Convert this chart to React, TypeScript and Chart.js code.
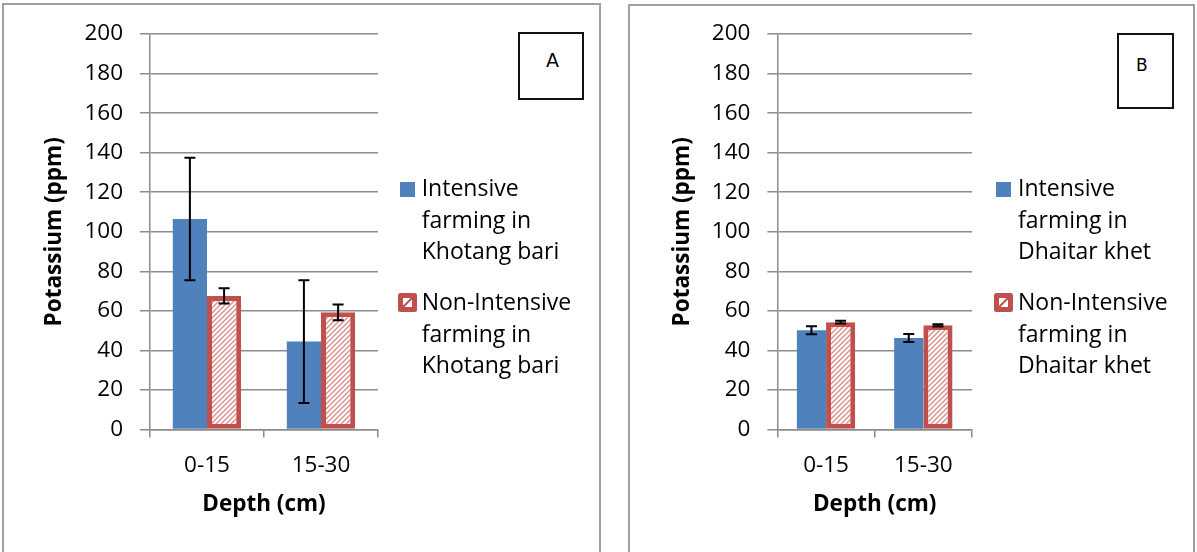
import React, { useEffect, useRef } from "react";
import { Chart, registerables } from "chart.js";

Chart.register(...registerables);

// ---------- data ----------
const categories = ["0-15", "15-30"];
const yMin = 0;
const yMax = 200;
const yStep = 20;

const khotangIntensive = [106.5, 44.5];
const khotangIntensiveErr = [31, 31];
const khotangNonIntensive = [67.6, 59.3];
const khotangNonIntensiveErr = [3.9, 4];

const dhaitarIntensive = [50.2, 46.3];
const dhaitarIntensiveErr = [2, 2];
const dhaitarNonIntensive = [54.3, 52.7];
const dhaitarNonIntensiveErr = [0.7, 0.6];

const legendKhotang = [
  ["Intensive", "farming in", "Khotang bari"],
  ["Non-Intensive", "farming in", "Khotang bari"],
];
const legendDhaitar = [
  ["Intensive", "farming in", "Dhaitar khet"],
  ["Non-Intensive", "farming in", "Dhaitar khet"],
];

const yTitle = "Potassium (ppm)";
const xTitle = "Depth (cm)";

// ---------- style ----------
const FONT = "'Open Sans', 'DejaVu Sans', sans-serif";
const GRAY = "#8c8c8c";
const BLUE = "#4F81BD";
const RED = "#C0504D";
const H = 552;
const PLOT_TOP = 34;
const ZERO_Y = 429.6;
const PAD_L = 20;
const TICK_SIZE = 22.5;
const TITLE_SIZE = 22.5;

function makeHatch(): CanvasPattern | string {
  const c = document.createElement("canvas");
  const p = 5;
  c.width = p;
  c.height = p;
  const g = c.getContext("2d");
  if (!g) return "#fff";
  g.fillStyle = "#ffffff";
  g.fillRect(0, 0, p, p);
  g.strokeStyle = "#DB8E8C";
  g.lineWidth = 1.4;
  g.beginPath();
  g.moveTo(-1, p + 1);
  g.lineTo(p + 1, -1);
  g.moveTo(-1, 1);
  g.lineTo(1, -1);
  g.moveTo(p - 1, p + 1);
  g.lineTo(p + 1, p - 1);
  g.stroke();
  return g.createPattern(c, "repeat") || "#fff";
}

const errorBarPlugin = {
  id: "errorBars",
  afterDatasetsDraw(chart: any, _args: any, opts: any) {
    const errs: number[][] = opts.errors || [];
    const ctx = chart.ctx;
    const yScale = chart.scales.y;
    ctx.save();
    ctx.strokeStyle = "#000";
    ctx.lineWidth = 2;
    chart.data.datasets.forEach((ds: any, di: number) => {
      const meta = chart.getDatasetMeta(di);
      meta.data.forEach((el: any, i: number) => {
        const v = ds.data[i];
        const e = errs[di] ? errs[di][i] : 0;
        const x = el.x;
        const yTop = yScale.getPixelForValue(v + e);
        const yBot = yScale.getPixelForValue(v - e);
        const cap = 5.5;
        ctx.beginPath();
        ctx.moveTo(x, yTop);
        ctx.lineTo(x, yBot);
        ctx.moveTo(x - cap, yTop);
        ctx.lineTo(x + cap, yTop);
        ctx.moveTo(x - cap, yBot);
        ctx.lineTo(x + cap, yBot);
        ctx.stroke();
      });
    });
    ctx.restore();
  },
};

type ChartProps = {
  canvasLeft: number;
  canvasWidth: number;
  yAxisX: number;
  plotRight: number;
  titleCenterX: number;
  intensive: number[];
  intensiveErr: number[];
  nonIntensive: number[];
  nonIntensiveErr: number[];
  legend: string[][];
};

function BarPanel(props: ChartProps) {
  const ref = useRef<HTMLCanvasElement | null>(null);
  useEffect(() => {
    if (!ref.current) return;
    const hatch = makeHatch();
    const titleLH = TITLE_SIZE * 1.2;
    const chart = new Chart(ref.current, {
      type: "bar",
      data: {
        labels: categories,
        datasets: [
          {
            label: props.legend[0].join(" "),
            data: props.intensive,
            backgroundColor: BLUE,
            borderWidth: 0,
          },
          {
            label: props.legend[1].join(" "),
            data: props.nonIntensive,
            backgroundColor: hatch as any,
            borderColor: RED,
            borderWidth: 5,
            borderSkipped: false,
          },
        ],
      },
      options: {
        responsive: true,
        maintainAspectRatio: false,
        animation: false,
        layout: {
          padding: {
            left: PAD_L,
            right: props.canvasWidth - props.plotRight,
            top: PLOT_TOP,
            bottom: 0,
          },
        },
        datasets: { bar: { categoryPercentage: 0.6, barPercentage: 1 } },
        plugins: {
          legend: { display: false },
          tooltip: { enabled: false },
          errorBars: { errors: [props.intensiveErr, props.nonIntensiveErr] },
        } as any,
        scales: {
          x: {
            grid: {
              drawOnChartArea: false,
              offset: true,
              tickLength: 8,
              color: GRAY,
              lineWidth: 1.5,
            },
            border: { color: GRAY, width: 1.5 },
            ticks: {
              font: { family: FONT, size: TICK_SIZE },
              color: "#000",
              padding: 14,
            },
            title: {
              display: true,
              text: xTitle,
              color: "#000",
              font: { family: FONT, size: TITLE_SIZE, weight: "bold" },
              padding: { top: 0, bottom: H - 505 - titleLH / 2 },
            },
            afterFit(s: any) {
              s.height = H - ZERO_Y;
            },
          },
          y: {
            min: yMin,
            max: yMax,
            ticks: {
              stepSize: yStep,
              font: { family: FONT, size: TICK_SIZE },
              color: "#000",
              padding: 17,
            },
            grid: { color: GRAY, lineWidth: 1.5, tickLength: 10 },
            border: { color: GRAY, width: 1.5 },
            title: {
              display: true,
              text: yTitle,
              color: "#000",
              font: { family: FONT, size: TITLE_SIZE, weight: "bold" },
              padding: {
                top: props.titleCenterX - PAD_L - titleLH / 2,
                bottom: 0,
              },
            },
            afterFit(s: any) {
              s.width = props.yAxisX - PAD_L;
            },
          },
        },
      } as any,
      plugins: [errorBarPlugin],
    });
    return () => chart.destroy();
  }, []);
  return (
    <div
      style={{
        position: "absolute",
        left: props.canvasLeft,
        top: 0,
        width: props.canvasWidth,
        height: H,
      }}
    >
      <canvas ref={ref} />
    </div>
  );
}

function RedMarker() {
  return (
    <svg width={19} height={19} style={{ display: "block" }}>
      <rect x={0} y={0} width={19} height={19} rx={2.5} fill={RED} />
      <rect x={5} y={5} width={9} height={9} fill="#fff" />
      <line x1={5} y1={14} x2={14} y2={5} stroke={RED} strokeWidth={2} />
    </svg>
  );
}

function Legend(props: { left: number; squareLeft: number; redLeft: number; lines: string[][] }) {
  const textStyle: React.CSSProperties = {
    position: "absolute",
    left: props.left,
    fontFamily: FONT,
    fontSize: 23,
    lineHeight: "31.5px",
    color: "#000",
    whiteSpace: "nowrap",
  };
  return (
    <>
      <div
        style={{
          position: "absolute",
          left: props.squareLeft,
          top: 182,
          width: 15,
          height: 15,
          background: BLUE,
        }}
      />
      <div style={{ ...textStyle, top: 172 }}>
        {props.lines[0].map((l, i) => (
          <div key={i}>{l}</div>
        ))}
      </div>
      <div style={{ position: "absolute", left: props.redLeft, top: 293 }}>
        <RedMarker />
      </div>
      <div style={{ ...textStyle, top: 286 }}>
        {props.lines[1].map((l, i) => (
          <div key={i}>{l}</div>
        ))}
      </div>
    </>
  );
}

function LabelBox(props: {
  left: number;
  top: number;
  width: number;
  height: number;
  text: string;
  size: number;
  textLeft: number;
  textTop: number;
}) {
  return (
    <div
      style={{
        position: "absolute",
        left: props.left,
        top: props.top,
        width: props.width,
        height: props.height,
        boxSizing: "border-box",
        border: "2px solid #111",
        background: "#fff",
      }}
    >
      <div
        style={{
          position: "absolute",
          left: props.textLeft,
          top: props.textTop,
          fontFamily: "'DejaVu Sans', sans-serif",
          fontSize: props.size,
          lineHeight: 1,
          color: "#000",
        }}
      >
        {props.text}
      </div>
    </div>
  );
}

export default function App() {
  return (
    <div
      style={{
        position: "absolute",
        left: 0,
        top: 0,
        width: 1197,
        height: H,
        overflow: "hidden",
        background: "#fff",
      }}
    >
      <BarPanel
        canvasLeft={0}
        canvasWidth={600}
        yAxisX={150}
        plotRight={378}
        titleCenterX={55}
        intensive={khotangIntensive}
        intensiveErr={khotangIntensiveErr}
        nonIntensive={khotangNonIntensive}
        nonIntensiveErr={khotangNonIntensiveErr}
        legend={legendKhotang}
      />
      <BarPanel
        canvasLeft={600}
        canvasWidth={597}
        yAxisX={177.4}
        plotRight={372}
        titleCenterX={83}
        intensive={dhaitarIntensive}
        intensiveErr={dhaitarIntensiveErr}
        nonIntensive={dhaitarNonIntensive}
        nonIntensiveErr={dhaitarNonIntensiveErr}
        legend={legendDhaitar}
      />
      <Legend left={421.7} squareLeft={400} redLeft={398} lines={legendKhotang} />
      <Legend left={1018} squareLeft={996} redLeft={994} lines={legendDhaitar} />
      <LabelBox left={518} top={32} width={66} height={68} text="A" size={19} textLeft={26} textTop={17} />
      <LabelBox left={1117} top={33} width={57} height={76} text="B" size={17} textLeft={17} textTop={22} />
      <div
        style={{
          position: "absolute",
          left: 2,
          top: 3,
          width: 599,
          height: 600,
          boxSizing: "border-box",
          border: "2px solid #a0a0a0",
          pointerEvents: "none",
        }}
      />
      <div
        style={{
          position: "absolute",
          left: 628,
          top: 4,
          width: 567,
          height: 600,
          boxSizing: "border-box",
          border: "2px solid #a0a0a0",
          pointerEvents: "none",
        }}
      />
    </div>
  );
}
